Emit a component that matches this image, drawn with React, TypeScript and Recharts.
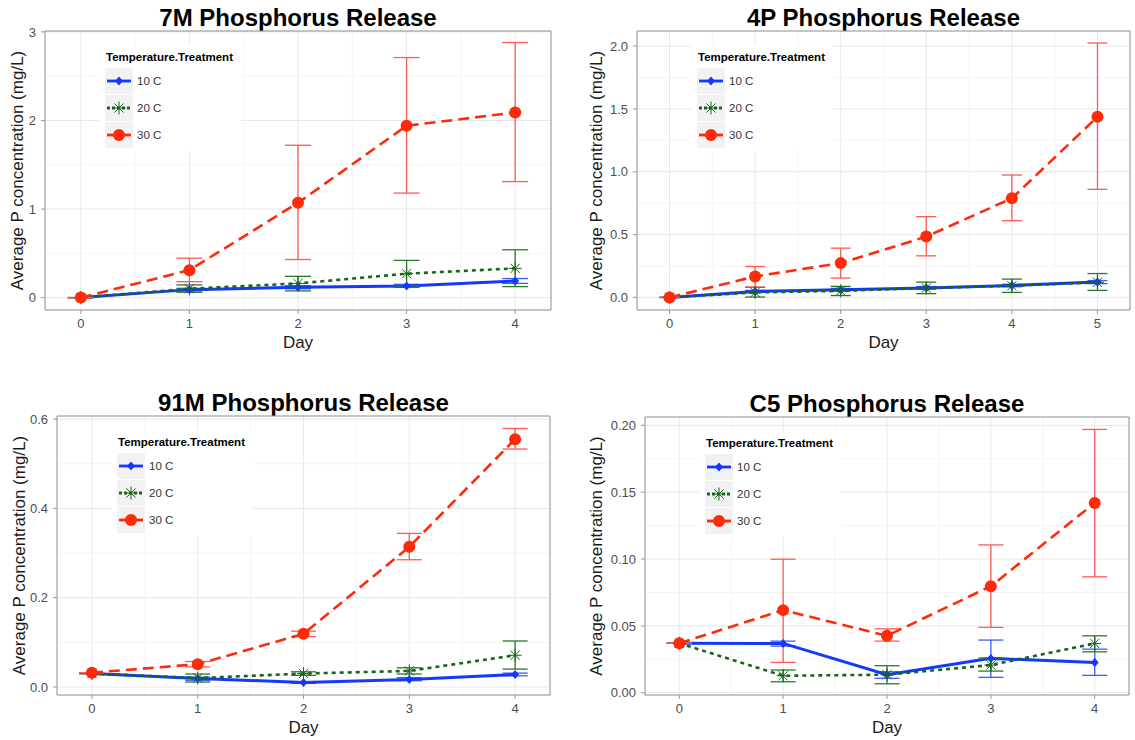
import { type ReactElement } from 'react'
import {
  LineChart,
  Line,
  XAxis,
  YAxis,
  CartesianGrid,
  ErrorBar,
  Legend,
  ReferenceArea,
} from 'recharts'

const FONT = '"Liberation Sans", Arial, Helvetica, sans-serif'

const days5 = [0, 1, 2, 3, 4]
const days6 = [0, 1, 2, 3, 4, 5]

// 7M (mean, lower, upper)
const m7_10 = [0, 0.09, 0.117, 0.132, 0.188]
const lo7_10 = [0, 0.075, 0.1, 0.115, 0.16]
const hi7_10 = [0, 0.105, 0.135, 0.15, 0.215]
const m7_20 = [0, 0.1, 0.16, 0.27, 0.33]
const lo7_20 = [0, 0.06, 0.076, 0.132, 0.124]
const hi7_20 = [0, 0.143, 0.24, 0.42, 0.54]
const m7_30 = [0, 0.31, 1.07, 1.94, 2.09]
const lo7_30 = [0, 0.18, 0.43, 1.18, 1.31]
const hi7_30 = [0, 0.445, 1.72, 2.71, 2.88]

// 4P
const m4_10 = [0, 0.048, 0.061, 0.076, 0.095, 0.122]
const lo4_10 = [0, 0.04, 0.05, 0.065, 0.085, 0.11]
const hi4_10 = [0, 0.056, 0.072, 0.087, 0.105, 0.134]
const m4_20 = [0, 0.04, 0.052, 0.075, 0.093, 0.12]
const lo4_20 = [0, 0.003, 0.015, 0.03, 0.04, 0.056]
const hi4_20 = [0, 0.08, 0.088, 0.122, 0.146, 0.19]
const m4_30 = [0, 0.167, 0.273, 0.484, 0.789, 1.437]
const lo4_30 = [0, 0.083, 0.154, 0.331, 0.611, 0.86]
const hi4_30 = [0, 0.246, 0.392, 0.643, 0.974, 2.024]

// 91M
const m91_10 = [0.03, 0.019, 0.01, 0.017, 0.028]
const lo91_10 = [0.03, 0.015, 0.008, 0.014, 0.025]
const hi91_10 = [0.03, 0.022, 0.012, 0.021, 0.031]
const m91_20 = [0.03, 0.02, 0.03, 0.036, 0.071]
const lo91_20 = [0.03, 0.011, 0.026, 0.029, 0.04]
const hi91_20 = [0.03, 0.029, 0.034, 0.043, 0.103]
const m91_30 = [0.032, 0.051, 0.119, 0.314, 0.555]
const lo91_30 = [0.032, 0.045, 0.113, 0.285, 0.533]
const hi91_30 = [0.032, 0.057, 0.125, 0.344, 0.579]

// C5
const m5_10 = [0.037, 0.0369, 0.0135, 0.0257, 0.0227]
const lo5_10 = [0.037, 0.0349, 0.0108, 0.0115, 0.013]
const hi5_10 = [0.037, 0.0386, 0.0157, 0.0394, 0.0326]
const m5_20 = [0.037, 0.0127, 0.0135, 0.0207, 0.0369]
const lo5_20 = [0.037, 0.0082, 0.0067, 0.0162, 0.0306]
const hi5_20 = [0.037, 0.017, 0.0202, 0.026, 0.0426]
const m5_30 = [0.037, 0.0618, 0.0426, 0.0797, 0.142]
const lo5_30 = [0.037, 0.0227, 0.0386, 0.0489, 0.0867]
const hi5_30 = [0.037, 0.0999, 0.0478, 0.1106, 0.197]

const yt7 = [0, 1, 2, 3]
const yt4 = [0, 0.5, 1, 1.5, 2]
const yt91 = [0, 0.2, 0.4, 0.6]
const ytC5 = [0, 0.05, 0.1, 0.15, 0.2]

type Shape = 'diamond' | 'star' | 'circle'

const SERIES: { key: string; name: string; color: string; bar: string; dash?: string; keyDash?: string; shape: Shape }[] = [
  { key: 't10', name: '10 C', color: '#1438ff', bar: '#3d5cff', shape: 'diamond' },
  { key: 't20', name: '20 C', color: '#17661a', bar: '#2a7a2c', dash: '4 4', keyDash: '3 2', shape: 'star' },
  { key: 't30', name: '30 C', color: '#ff2a0a', bar: '#ff5a55', dash: '11 6', shape: 'circle' },
]

interface PanelCfg {
  title: string
  days: number[]
  series: number[][][]
  x0: number
  y0: number
  plot: { l: number; t: number; r: number; b: number }
  xDomain: [number, number]
  yDomain: [number, number]
  yTicks: number[]
  digits: number
  cap: number
  yTitleX: number
}

const mid = (v: number[]) => v.slice(1).map((x, i) => (x + v[i]) / 2)

const PANELS: PanelCfg[] = [
  {
    title: '7M Phosphorus Release',
    days: days5,
    series: [[m7_10, lo7_10, hi7_10], [m7_20, lo7_20, hi7_20], [m7_30, lo7_30, hi7_30]],
    x0: 0, y0: 0,
    plot: { l: 45, t: 31, r: 551, b: 310 },
    xDomain: [-0.33, 4.33], yDomain: [-0.14, 3.01],
    yTicks: yt7, digits: 0, cap: 13, yTitleX: 17,
  },
  {
    title: '4P Phosphorus Release',
    days: days6,
    series: [[m4_10, lo4_10, hi4_10], [m4_20, lo4_20, hi4_20], [m4_30, lo4_30, hi4_30]],
    x0: 570, y0: 0,
    plot: { l: 637, t: 31, r: 1130, b: 310 },
    xDomain: [-0.38, 5.38], yDomain: [-0.1, 2.12],
    yTicks: yt4, digits: 1, cap: 10, yTitleX: 26.5,
  },
  {
    title: '91M Phosphorus Release',
    days: days5,
    series: [[m91_10, lo91_10, hi91_10], [m91_20, lo91_20, hi91_20], [m91_30, lo91_30, hi91_30]],
    x0: 0, y0: 380,
    plot: { l: 57, t: 416, r: 550, b: 695 },
    xDomain: [-0.33, 4.33], yDomain: [-0.018, 0.607],
    yTicks: yt91, digits: 1, cap: 12.5, yTitleX: 19,
  },
  {
    title: 'C5 Phosphorus Release',
    days: days5,
    series: [[m5_10, lo5_10, hi5_10], [m5_20, lo5_20, hi5_20], [m5_30, lo5_30, hi5_30]],
    x0: 570, y0: 380,
    plot: { l: 645, t: 417, r: 1129, b: 695 },
    xDomain: [-0.33, 4.33], yDomain: [-0.0017, 0.2063],
    yTicks: ytC5, digits: 2, cap: 12.5, yTitleX: 26,
  },
]

function Marker({ shape, x, y, color }: { shape: Shape; x: number; y: number; color: string }): ReactElement {
  if (shape === 'diamond') {
    return <path d={`M${x} ${y - 4.5}L${x + 4} ${y}L${x} ${y + 4.5}L${x - 4} ${y}Z`} fill={color} />
  }
  if (shape === 'star') {
    const r = 6.5
    const d = r * 0.707
    return (
      <path
        d={`M${x - r} ${y}H${x + r}M${x} ${y - r}V${y + r}M${x - d} ${y - d}L${x + d} ${y + d}M${x - d} ${y + d}L${x + d} ${y - d}`}
        stroke={color}
        strokeWidth={1}
        fill="none"
      />
    )
  }
  return <circle cx={x} cy={y} r={6} fill={color} />
}

const renderDot = (shape: Shape, color: string) => (props: any) => {
  const { cx, cy, index } = props
  if (cx == null || cy == null) return <g key={`n${index}`} />
  return <Marker key={`m${index}`} shape={shape} x={cx} y={cy} color={color} />
}

function LegendBox({ payload }: any): ReactElement {
  const items = (payload ?? [])
    .map((p: any) => SERIES.find((s) => s.key === p.dataKey))
    .filter(Boolean)
  return (
    <div style={{ background: '#fff', padding: '6px 8px 3px 6px', fontFamily: FONT }}>
      <div style={{ fontWeight: 'bold', fontSize: 11.5, lineHeight: '12px', color: '#000', marginBottom: 4, paddingLeft: 1 }}>
        Temperature.Treatment
      </div>
      {items.map((s: (typeof SERIES)[number]) => (
        <div key={s.key} style={{ display: 'flex', alignItems: 'center', height: 27 }}>
          <svg width={28} height={26} style={{ display: 'block', background: '#f2f2f2' }}>
            <line x1={2} x2={26} y1={13} y2={13} stroke={s.color} strokeWidth={2.8} strokeDasharray={s.keyDash} />
            <Marker shape={s.shape} x={14} y={13} color={s.color} />
          </svg>
          <span style={{ marginLeft: 4, fontSize: 11.5, color: '#333' }}>{s.name}</span>
        </div>
      ))}
    </div>
  )
}

function Panel({ cfg }: { cfg: PanelCfg }): ReactElement {
  const { x0, y0, plot } = cfg
  const width = 565
  const height = 360
  const xAxisH = y0 + height - plot.b
  const data = cfg.days.map((d, i) => {
    const row: Record<string, number | number[]> = { day: d }
    SERIES.forEach((s, k) => {
      const [m, lo, hi] = cfg.series[k]
      row[s.key] = m[i]
      row['e' + s.key] = [m[i] - lo[i], hi[i] - m[i]]
    })
    return row
  })
  const xMinor = mid(cfg.days)
  const yMinor = mid(cfg.yTicks)
  const tickStyle = { fill: '#4d4d4d', fontSize: 13, fontFamily: FONT }
  return (
    <div style={{ position: 'absolute', left: x0, top: y0, width, height }}>
      <div
        style={{
          position: 'absolute',
          left: (plot.l + plot.r) / 2 - x0,
          top: plot.t - y0 - 13.5,
          transform: 'translate(-50%, -50%)',
          whiteSpace: 'nowrap',
          fontFamily: FONT,
          fontWeight: 'bold',
          fontSize: 24,
          color: '#000',
        }}
      >
        {cfg.title}
      </div>
      <LineChart
        width={width}
        height={height}
        data={data}
        margin={{ top: plot.t - y0, right: x0 + width - plot.r, bottom: 0, left: 0 }}
      >
        <CartesianGrid stroke="#f5f5f5" horizontalValues={yMinor} verticalValues={xMinor} />
        <CartesianGrid stroke="#e9e9e9" horizontalValues={cfg.yTicks} verticalValues={cfg.days} />
        <XAxis
          dataKey="day"
          type="number"
          domain={cfg.xDomain}
          allowDataOverflow
          ticks={cfg.days}
          interval={0}
          height={xAxisH}
          axisLine={false}
          tickLine={{ stroke: '#999' }}
          tickSize={4}
          tickMargin={5}
          tick={tickStyle}
          label={(p: any) => {
            const vb = p.viewBox
            return (
              <text
                x={vb.x + vb.width / 2}
                y={vb.y + 32.5}
                textAnchor="middle"
                dominantBaseline="central"
                fontFamily={FONT}
                fontSize={17}
                fill="#1a1a1a"
              >
                Day
              </text>
            )
          }}
        />
        <YAxis
          type="number"
          domain={cfg.yDomain}
          allowDataOverflow
          ticks={cfg.yTicks}
          interval={0}
          width={plot.l - x0}
          axisLine={false}
          tickLine={{ stroke: '#999' }}
          tickSize={4}
          tickMargin={5}
          tick={tickStyle}
          tickFormatter={(v: number) => v.toFixed(cfg.digits)}
          label={(p: any) => {
            const vb = p.viewBox
            const cy = vb.y + vb.height / 2
            return (
              <text
                x={cfg.yTitleX}
                y={cy}
                transform={`rotate(-90 ${cfg.yTitleX} ${cy})`}
                textAnchor="middle"
                dominantBaseline="central"
                fontFamily={FONT}
                fontSize={17}
                fill="#1a1a1a"
              >
                Average P concentration (mg/L)
              </text>
            )
          }}
        />
        <ReferenceArea
          x1={cfg.xDomain[0]}
          x2={cfg.xDomain[1]}
          y1={cfg.yDomain[0]}
          y2={cfg.yDomain[1]}
          fill="none"
          stroke="#8c8c8c"
          strokeWidth={1}
        />
        {SERIES.map((s) => (
          <Line
            key={s.key}
            dataKey={s.key}
            name={s.name}
            stroke={s.color}
            strokeWidth={s.key === 't10' ? 3 : 2.6}
            strokeDasharray={s.dash}
            dot={renderDot(s.shape, s.color)}
            activeDot={false}
            isAnimationActive={false}
          >
            <ErrorBar
              dataKey={'e' + s.key}
              width={cfg.cap}
              stroke={s.bar}
              strokeWidth={1.3}
              direction="y"
              isAnimationActive={false}
            />
          </Line>
        ))}
        <Legend
          layout="vertical"
          align="center"
          verticalAlign="middle"
          content={<LegendBox />}
          wrapperStyle={{ left: plot.l - x0 + 54, top: plot.t - y0 + 14, width: 'auto', height: 'auto' }}
        />
      </LineChart>
    </div>
  )
}

export default function App(): ReactElement {
  return (
    <div
      style={{
        position: 'absolute',
        left: 0,
        top: 0,
        width: 1135,
        height: 740,
        overflow: 'hidden',
        background: '#fff',
      }}
    >
      {PANELS.map((p) => (
        <Panel key={p.title} cfg={p} />
      ))}
    </div>
  )
}
